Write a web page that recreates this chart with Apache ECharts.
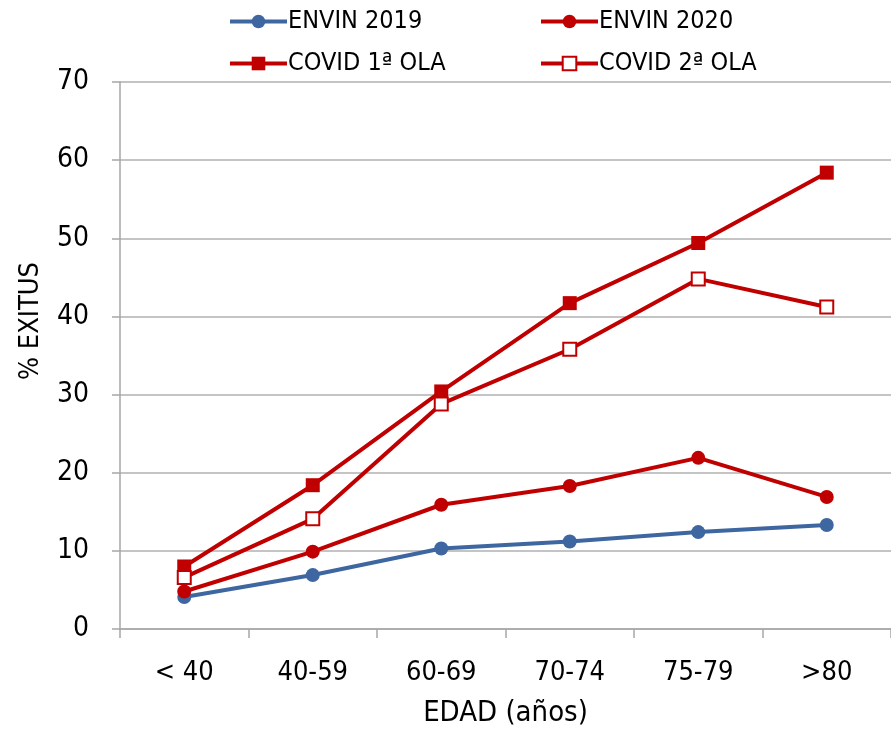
<!DOCTYPE html>
<html><head><meta charset="utf-8">
<script src="https://cdn.jsdelivr.net/npm/echarts@6/dist/echarts.min.js"></script>
<style>html,body{margin:0;padding:0;background:#fff;overflow:hidden}#c{width:891px;height:733px}</style>
</head><body><div id="c"></div>
<script>
const categories = ['< 40','40-59','60-69','70-74','75-79','>80'];
const envin2019 = [4.1, 6.9, 10.3, 11.2, 12.4, 13.3];
const envin2020 = [4.8, 9.9, 15.9, 18.3, 21.9, 16.9];
const covid1 = [8.0, 18.4, 30.4, 41.7, 49.4, 58.4];
const covid2 = [6.6, 14.1, 28.8, 35.8, 44.8, 41.2];
const seriesNames = ['ENVIN 2019','ENVIN 2020','COVID 1ª OLA','COVID 2ª OLA'];
const yTicks = {min:0, max:70, interval:10};
const xName = 'EDAD (años)';
const yName = '% EXITUS';

const FONT = "'Liberation Sans Narrow','Arial Narrow','DejaVu Sans Condensed',sans-serif";
const BLUE = '#3E66A0', RED = '#C00000';
const chart = echarts.init(document.getElementById('c'), null, {renderer:'canvas'});

function leg(name, left, top){
  return {data:[name], left:left, top:top, itemWidth:57, itemHeight:17, itemGap:0,
    lineStyle:{width:4},
    textStyle:{fontFamily:FONT, fontSize:25, color:'#000', padding:[0,0,0,-4]}};
}
chart.setOption({
  animation:false,
  legend:[leg(seriesNames[0],223,4), leg(seriesNames[1],534,4), leg(seriesNames[2],223,46), leg(seriesNames[3],534,46)],
  grid:{left:120, top:82, bottom:101, right:-9},
  graphic:[{type:'text', left:17, top:262, rotation:Math.PI/2,
    style:{text:yName, font:"27px "+FONT, fill:'#000'}}],
  xAxis:{type:'category', data:categories, boundaryGap:true,
    name:xName, nameLocation:'middle', nameGap:70,
    nameTextStyle:{fontFamily:FONT, fontSize:29, color:'#000'},
    axisLine:{lineStyle:{color:'#A6A6A6', width:1.5}},
    axisTick:{show:true, length:9, lineStyle:{color:'#A6A6A6', width:1.5}},
    axisLabel:{fontFamily:FONT, fontSize:27, color:'#000', margin:30}},
  yAxis:{type:'value', min:yTicks.min, max:yTicks.max, interval:yTicks.interval,
    axisLine:{show:true, lineStyle:{color:'#A6A6A6', width:1.5}},
    axisTick:{show:true, length:8, lineStyle:{color:'#A6A6A6', width:1.5}},
    splitLine:{lineStyle:{color:'#B0B0B0', width:1.5}},
    axisLabel:{fontFamily:FONT, fontSize:28, color:'#000', margin:31}},
  series:[
    {name:seriesNames[0], type:'line', data:envin2019, symbol:'circle', symbolSize:14,
      lineStyle:{color:BLUE, width:4}, itemStyle:{color:BLUE}, z:2},
    {name:seriesNames[1], type:'line', data:envin2020, symbol:'circle', symbolSize:14,
      lineStyle:{color:RED, width:4}, itemStyle:{color:RED}, z:3},
    {name:seriesNames[2], type:'line', data:covid1, symbol:'rect', symbolSize:14,
      lineStyle:{color:RED, width:4}, itemStyle:{color:RED}, z:4},
    {name:seriesNames[3], type:'line', data:covid2, symbol:'rect', symbolSize:13,
      lineStyle:{color:RED, width:4}, itemStyle:{color:'#fff', borderColor:RED, borderWidth:2}, z:5}
  ]
});
</script></body></html>
